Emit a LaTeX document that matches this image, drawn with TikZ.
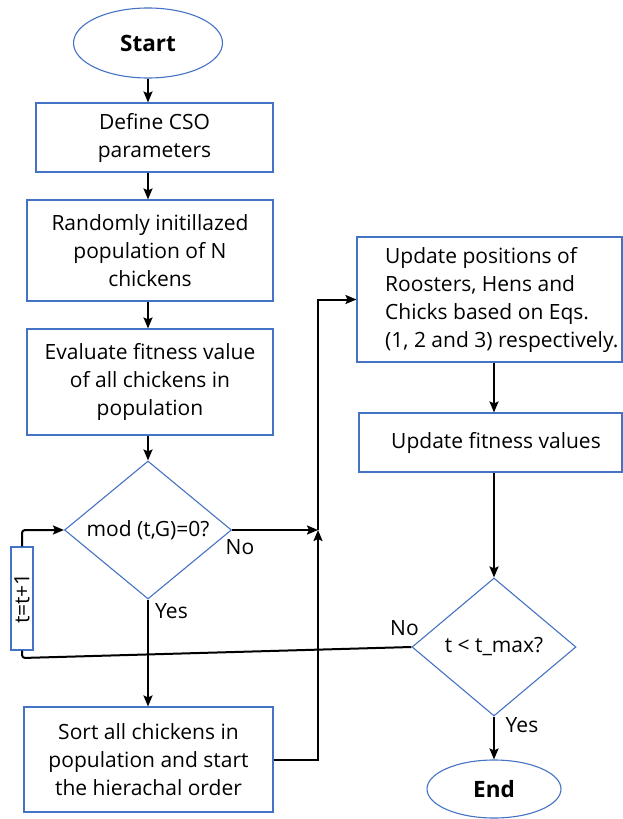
\documentclass[tikz,border=0pt]{standalone}
\usepackage{fontspec}
\setmainfont{Open Sans}
\usetikzlibrary{shapes.geometric,arrows.meta}
\definecolor{bb}{HTML}{4472C4}
\newcommand\fsz{\fontsize{21}{28}\selectfont}
\begin{document}
\begin{tikzpicture}[x=1pt,y=-1pt,
  box/.style={draw=bb,line width=1.1pt,rectangle,inner sep=0pt,align=center,font=\fsz},
  oval/.style={draw=bb,line width=1.1pt,ellipse,inner sep=0pt,font=\fontsize{22.5}{26}\selectfont\bfseries},
  dia/.style={draw=bb,line width=1.1pt,diamond,aspect=1.21,inner sep=0pt,font=\fsz},
  lbl/.style={font=\fsz,inner sep=0pt},
  arr/.style={line width=2pt,-{Stealth[length=11pt,width=9pt,inset=2pt]}},
  ln/.style={line width=2pt}]
\useasboundingbox (0,0) rectangle (623,819);
% left column
\node[oval,minimum width=149pt,minimum height=70pt] (start) at (148,43) {Start};
\node[box,minimum width=237pt,minimum height=69pt] (def) at (154.5,137.5) {Define CSO\\parameters};
\node[box,minimum width=246pt,minimum height=101pt] (rand) at (150,250.5) {Randomly initillazed\\population of N\\chickens};
\node[box,minimum width=246pt,minimum height=106pt] (eval) at (150,382) {Evaluate fitness value\\of all chickens in\\population};
\node[dia,minimum width=167pt,minimum height=138pt] (d1) at (148,530) {mod (t,G)=0?};
\node[box,minimum width=249pt,minimum height=105pt] (sort) at (148.5,759.5) {Sort all chickens in\\population and start\\the hierachal order};
\node[box,minimum width=22pt,minimum height=103pt] (inc) at (22,598.5) {};
\node[lbl,rotate=90] (inct) at (inc.center) {t=t+1};
% right column
\node[box,minimum width=265pt,minimum height=125pt] (upd) at (489.5,299.5) {};
\node[lbl,anchor=west,align=left] (updt) at (385,299.5) {Update positions of\\Roosters, Hens and\\Chicks based on Eqs.\\(1, 2 and 3) respectively.};
\node[box,minimum width=263pt,minimum height=59pt] (fit) at (490.5,442.5) {};
\node[lbl] (fitt) at (496,442.5) {Update fitness values};
\node[dia,minimum width=164pt,minimum height=138pt] (d2) at (494,647) {t < t\_max?};
\node[oval,minimum width=134pt,minimum height=58pt] (end) at (494,789) {End};
% labels
\node[lbl] (no1) at (240,547) {No};
\node[lbl] (yes1) at (171.5,611) {Yes};
\node[lbl] (no2) at (404.5,628) {No};
\node[lbl] (yes2) at (522,725) {Yes};
% junction and corners
\coordinate (j) at (318,530);
\coordinate (lb) at (22,658);
\coordinate (lt) at (22,530);
% connectors
\draw[arr] (start.south) -- (start.south |- def.north);
\draw[arr] (start.south |- def.south) -- (start.south |- rand.north);
\draw[arr] (start.south |- rand.south) -- (start.south |- eval.north);
\draw[arr] (start.south |- eval.south) -- (d1.north);
\draw[arr] (d1.south) -- (d1.south |- sort.north);
\draw[arr] (d1.east) -- (j);
\draw[arr] (sort.east) -| (j);
\draw[arr] (j) |- (upd.west);
\draw[arr] (d2.north |- upd.south) -- (d2.north |- fit.north);
\draw[arr] (d2.north |- fit.south) -- (d2.north);
\draw[arr] (d2.south) -- (end.north);
\draw[ln,rounded corners=3pt] (d2.west) -- (lb) -- (inc.south);
\draw[arr,rounded corners=3pt] (inc.north) -- (lt) -- (d1.west);
\end{tikzpicture}
\end{document}
